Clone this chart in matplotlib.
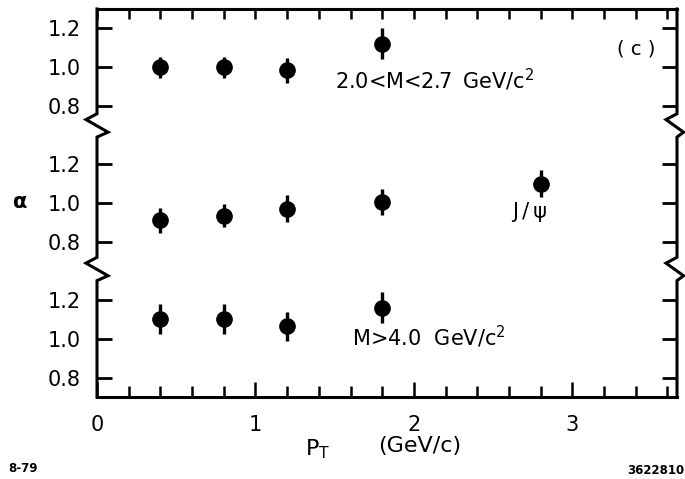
import matplotlib
matplotlib.use("Agg")
import matplotlib.pyplot as plt
import matplotlib.transforms as mtransforms

# ---- data ----
pt_low = [0.4, 0.8, 1.2, 1.8]
alpha_low = [1.00, 1.00, 0.985, 1.12]
err_low = [0.055, 0.055, 0.065, 0.08]

pt_jpsi = [0.4, 0.8, 1.2, 1.8, 2.8]
alpha_jpsi = [0.91, 0.935, 0.97, 1.005, 1.10]
err_jpsi = [0.065, 0.06, 0.07, 0.065, 0.068]

pt_high = [0.4, 0.8, 1.2, 1.8]
alpha_high = [1.10, 1.10, 1.065, 1.16]
err_high = [0.077, 0.077, 0.075, 0.08]

ytick_values = [0.8, 1.0, 1.2]
ytick_labels = ["0.8", "1.0", "1.2"]
xtick_values = [0, 1, 2, 3]
xtick_labels = ["0", "1", "2", "3"]

# panel stacking (layout): each panel shifted by this amount on one axis
OFF_TOP, OFF_MID, OFF_BOT = 1.4, 0.7, 0.0
BREAKS = [1.36, 2.10]

plt.rcParams['font.family'] = ['DejaVu Sans']
fig = plt.figure(figsize=(6.85, 4.79), dpi=100)
ax = fig.add_axes([97/685, 1 - 397/479, 580/685, 388/479])
ax.set_xlim(0, 3.66)
ax.set_ylim(0.7, 2.7)

mk = dict(fmt='o', color='black', ms=11, elinewidth=2.4, capsize=0)
ax.errorbar(pt_low, [a + OFF_TOP for a in alpha_low], yerr=err_low, **mk)
ax.errorbar(pt_jpsi, [a + OFF_MID for a in alpha_jpsi], yerr=err_jpsi, **mk)
ax.errorbar(pt_high, [a + OFF_BOT for a in alpha_high], yerr=err_high, **mk)

# y ticks (repeat per panel)
yt, yl = [], []
for off in (OFF_BOT, OFF_MID, OFF_TOP):
    for v, l in zip(ytick_values, ytick_labels):
        yt.append(v + off)
        yl.append(l)
ax.set_yticks(yt)
ax.set_yticklabels(yl)
ax.tick_params(axis='y', direction='in', length=10.5, width=2.0, left=True,
               right=True, labelsize=15, pad=12)

ax.set_xticks(xtick_values)
ax.set_xticklabels(xtick_labels)
ax.set_xticks([i * 0.2 for i in range(19)], minor=True)
ax.tick_params(axis='x', which='major', direction='in', length=11, width=1.8,
               top=False, labelsize=15, pad=13)
ax.tick_params(axis='x', which='minor', direction='in', length=8, width=1.8,
               top=False)

top = ax.secondary_xaxis('top')
top.set_xticks([i * 0.2 for i in range(19)])
top.tick_params(direction='in', length=7, width=1.8, labeltop=False)
top.spines['top'].set_visible(False)

for s in ('left', 'right'):
    ax.spines[s].set_visible(False)
for s in ('top', 'bottom'):
    ax.spines[s].set_linewidth(2.2)

# broken side spines with zigzags
trans = mtransforms.blended_transform_factory(ax.transAxes, ax.transData)
dx = 11 / 580
b1, b2 = BREAKS
ly = [0.7, b1 - 0.06, b1 - 0.035, b1 + 0.03, b1 + 0.06,
      b2 - 0.06, b2 - 0.035, b2 + 0.03, b2 + 0.06, 2.7]
lx = [0, 0, dx, -dx, 0, 0, dx, -dx, 0, 0]
ax.plot(lx, ly, color='black', lw=2.2, transform=trans, clip_on=False,
        solid_joinstyle='miter')
rx = [1, 1, 1 + 0.6 * dx, 1 - dx, 1, 1, 1 + 0.6 * dx, 1 - dx, 1, 1]
ax.plot(rx, ly, color='black', lw=2.2, transform=trans, clip_on=False,
        solid_joinstyle='miter')

# annotations
ax.text(1.50, 2.334, "2.0<M<2.7\u2009 GeV/c$^2$", fontsize=15, ha='left', va='center')
ax.text(3.40, 2.494, "( c )", fontsize=14, ha='center', va='center')
ax.text(2.73, 1.654, "J\u2009/\u2009ψ", fontsize=15, ha='center', va='center')
ax.text(1.61, 1.009, "M>4.0  GeV/c$^2$", fontsize=15, ha='left', va='center')

fig.text(20/685, 1 - 202/479, "α", fontsize=15, fontweight='bold',
         ha='center', va='center')
fig.text(318/685, 1 - 449/479, "P$_\\mathregular{T}$", fontsize=16,
         ha='center', va='center')
fig.text(420/685, 1 - 446/479, "(GeV/c)", fontsize=16, ha='center', va='center')
fig.text(8/685, 1 - 468/479, "8-79", fontsize=8.5, fontweight='bold',
         ha='left', va='center')
fig.text(627/685, 1 - 470/479, "3622810", fontsize=8.5, fontweight='bold',
         ha='left', va='center')

fig.savefig("out.png", dpi=100)
